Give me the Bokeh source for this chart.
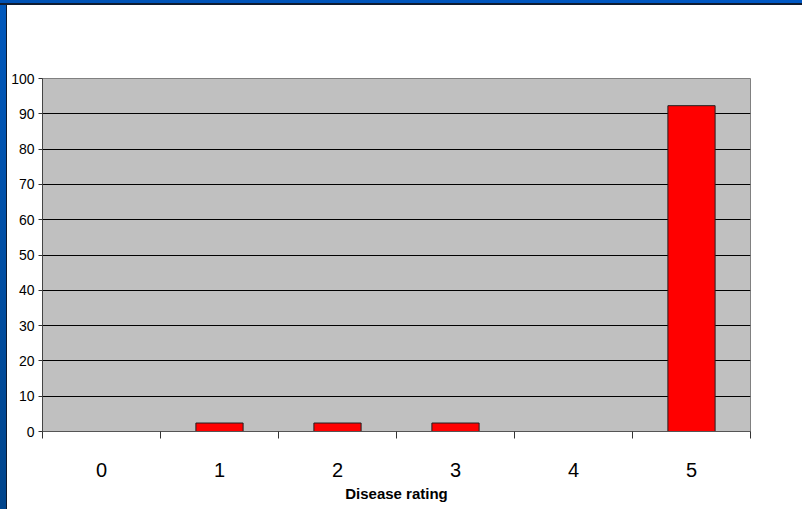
from bokeh.plotting import figure
from bokeh.models import FixedTicker, Range1d, Spacer, ColumnDataSource
from bokeh.layouts import column, row
from bokeh.embed import file_html
from bokeh.resources import INLINE

# ---- data ----
ratings = [0, 1, 2, 3, 4, 5]
rating_labels = ["0", "1", "2", "3", "4", "5"]
percent = [0, 2.4, 2.4, 2.4, 0, 92.3]
y_ticks = [0, 10, 20, 30, 40, 50, 60, 70, 80, 90, 100]
x_title = "Disease rating"

FONT = "'Liberation Sans Narrow', 'Arial Narrow', 'Liberation Sans', sans-serif"

src = ColumnDataSource(dict(x=ratings, top=percent))

p = figure(width=795, height=504, output_backend="svg", toolbar_location=None,
           x_range=Range1d(ratings[0] - 0.5, ratings[-1] + 0.5),
           y_range=Range1d(y_ticks[0], y_ticks[-1]),
           min_border_left=35, min_border_right=52,
           min_border_top=73, min_border_bottom=78)

p.background_fill_color = "#C0C0C0"
p.border_fill_color = "white"
p.outline_line_color = "#808080"
p.outline_line_width = 1

p.vbar(x="x", top="top", width=0.4, source=src,
       fill_color="#FF0000", line_color="#202020", line_width=1)

# grid
p.xgrid.visible = False
p.ygrid.ticker = FixedTicker(ticks=y_ticks[1:-1])
p.ygrid.grid_line_color = "black"
p.ygrid.grid_line_width = 1

# x axis
xa = p.xaxis[0]
boundaries = [r - 0.5 for r in ratings] + [ratings[-1] + 0.5]
xa.ticker = FixedTicker(ticks=ratings, minor_ticks=boundaries)
xa.major_label_overrides = {r: l for r, l in zip(ratings, rating_labels)}
xa.major_tick_out = 0
xa.major_tick_in = 0
xa.minor_tick_out = 7
xa.minor_tick_in = 0
xa.minor_tick_line_color = "#333333"
xa.axis_line_color = "#555555"
xa.major_label_text_font = FONT
xa.major_label_text_font_size = "20px"
xa.major_label_text_color = "black"
xa.major_label_standoff = 24
xa.axis_label = x_title
xa.axis_label_text_font = FONT
xa.axis_label_text_font_style = "bold"
xa.axis_label_text_font_size = "15px"
xa.axis_label_text_color = "black"
xa.axis_label_standoff = 5

# y axis
ya = p.yaxis[0]
ya.ticker = FixedTicker(ticks=y_ticks)
ya.major_tick_out = 4
ya.major_tick_in = 0
ya.minor_tick_out = 0
ya.minor_tick_in = 0
ya.major_tick_line_color = "#333333"
ya.axis_line_color = "#444444"
ya.major_label_text_font = FONT
ya.major_label_text_font_size = "14px"
ya.major_label_text_color = "black"
ya.major_label_standoff = 4

top_bar = Spacer(width=802, height=5, styles={
    "background": "linear-gradient(to bottom, transparent 70%, #101c30 70%), linear-gradient(to right, #0052b4, #0058c4)"})
left_bar = Spacer(width=7, height=504, styles={
    "background": "linear-gradient(to right, transparent 80%, #0c1a30 80%), linear-gradient(to bottom, #0058bc, #00458c)"})

layout = column(top_bar, row(left_bar, p, spacing=0), spacing=0)

open("out.html", "w").write(file_html(layout, INLINE))
